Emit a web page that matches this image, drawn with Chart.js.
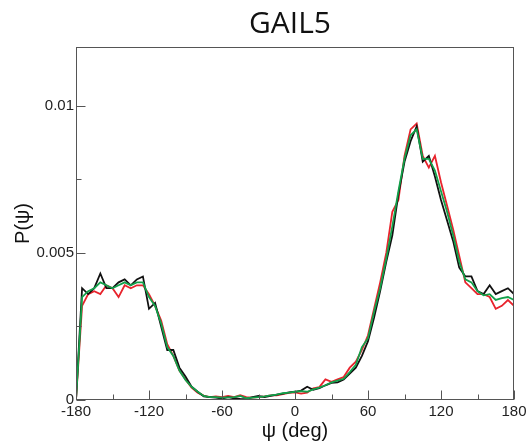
<!DOCTYPE html>
<html>
<head>
<meta charset="utf-8">
<script src="https://cdn.jsdelivr.net/npm/chart.js@4.4.1/dist/chart.umd.min.js"></script>
<style>
  html, body { margin: 0; padding: 0; background: #fff; }
  #wrap { width: 530px; height: 444px; }
</style>
</head>
<body>
<div id="wrap"><canvas id="c" width="530" height="444"></canvas></div>
<script>
const chartTitle = 'GAIL5';
const xTitle = 'ψ (deg)';
const yTitle = 'P(ψ)';

const angles = [-180,-175,-170,-165,-160,-155,-150,-145,-140,-135,-130,-125,-120,-115,-110,-105,-100,-95,-90,-85,-80,-75,-70,-65,-60,-55,-50,-45,-40,-35,-30,-25,-20,-15,-10,-5,0,5,10,15,20,25,30,35,40,45,50,55,60,65,70,75,80,85,90,95,100,105,110,115,120,125,130,135,140,145,150,155,160,165,170,175,180];

const blackSeries = [0,0.0038,0.0036,0.0038,0.0043,0.0038,0.0038,0.0040,0.0041,0.0039,0.0041,0.0042,0.0031,0.0033,0.0025,0.0017,0.0017,0.0011,0.0008,0.00045,0.00028,0.00012,0.0001,0.00008,0.00005,0.0001,0.00006,0.00004,0.00003,0.0001,0.00014,0.0001,0.00014,0.00018,0.00022,0.00026,0.00028,0.00032,0.00045,0.00035,0.0004,0.0005,0.00058,0.0006,0.0007,0.0009,0.0011,0.0015,0.0020,0.0028,0.0037,0.0047,0.0056,0.0070,0.0081,0.0088,0.0093,0.0081,0.0083,0.0076,0.0068,0.0061,0.0054,0.0045,0.0042,0.0042,0.0037,0.0036,0.0039,0.0036,0.0037,0.0038,0.0036];

const redSeries = [0,0.0032,0.0036,0.0037,0.0036,0.0039,0.0038,0.0035,0.0039,0.0038,0.0039,0.0039,0.0036,0.0032,0.0027,0.0019,0.0015,0.0010,0.0007,0.00042,0.00025,0.00015,0.0001,0.00012,0.0001,0.00014,0.0001,0.00016,0.0001,0.00008,0.0001,0.00012,0.00016,0.00016,0.0002,0.00024,0.00026,0.00022,0.00025,0.0004,0.00044,0.0007,0.00062,0.0007,0.00078,0.0011,0.0013,0.0017,0.0022,0.0031,0.0040,0.0050,0.0064,0.0068,0.0083,0.0092,0.0094,0.0083,0.0079,0.0083,0.0074,0.0066,0.0058,0.0049,0.0040,0.0038,0.0036,0.0036,0.0035,0.0031,0.0032,0.0034,0.0032];

const greenSeries = [0,0.0035,0.0037,0.0038,0.0040,0.0039,0.0038,0.0039,0.0040,0.0039,0.0040,0.0040,0.0035,0.0032,0.0026,0.0018,0.0015,0.0010,0.00068,0.00045,0.00028,0.00014,0.0001,0.0001,0.00008,0.00009,0.0001,0.00014,0.00006,0.00008,0.0001,0.00012,0.00016,0.00018,0.00023,0.00025,0.00028,0.0003,0.00028,0.00036,0.00042,0.0005,0.0006,0.00066,0.00072,0.00095,0.0012,0.0018,0.0021,0.0030,0.0038,0.0048,0.0059,0.0071,0.0082,0.0090,0.0092,0.0082,0.0082,0.0078,0.0071,0.0064,0.0056,0.0047,0.0041,0.0040,0.0037,0.00356,0.0036,0.0034,0.00346,0.0035,0.0034];

const xTicks = [-180,-150,-120,-90,-60,-30,0,30,60,90,120,150,180];
const xLabels = ['-180','','-120','','-60','','0','','60','','120','','180'];
const yTicks = [0,0.0025,0.005,0.0075,0.01];
const yLabels = ['0','','0.005','','0.01'];

function pts(vals) { return angles.map((a, i) => ({ x: a, y: vals[i] })); }

const framePlugin = {
  id: 'frame',
  afterDatasetsDraw(chart) {
    const ctx = chart.ctx, a = chart.chartArea;
    const xs = chart.scales.x, ys = chart.scales.y;
    ctx.save();
    ctx.strokeStyle = '#555';
    ctx.lineWidth = 1;
    const L = Math.round(a.left) + 0.5, R = Math.round(a.right) - 0.5;
    const T = Math.round(a.top) + 0.5, B = Math.round(a.bottom) - 0.5;
    ctx.strokeRect(L, T, R - L, B - T);
    ctx.beginPath();
    xs.ticks.forEach((t, i) => {
      const px = Math.round(xs.getPixelForValue(t.value)) + 0.5;
      const len = xLabels[i] ? 9 : 5;
      ctx.moveTo(px, B); ctx.lineTo(px, B - len);
    });
    ys.ticks.forEach((t, i) => {
      const py = Math.round(ys.getPixelForValue(t.value)) + 0.5;
      const len = yLabels[i] ? 9 : 5;
      ctx.moveTo(L, py); ctx.lineTo(L + len, py);
    });
    ctx.stroke();
    // titles
    ctx.fillStyle = '#111';
    ctx.textAlign = 'center';
    ctx.textBaseline = 'alphabetic';
    ctx.font = '30px "Open Sans"';
    ctx.fillText(chartTitle, 290, 32.5);
    ctx.font = '20px "Liberation Sans"';
    ctx.fillText(xTitle, (a.left + a.right) / 2, 437);
    ctx.save();
    ctx.translate(29, (a.top + a.bottom) / 2);
    ctx.rotate(-Math.PI / 2);
    ctx.fillText(yTitle, 0, 0);
    ctx.restore();
    ctx.restore();
  }
};

new Chart(document.getElementById('c'), {
  type: 'line',
  data: {
    datasets: [
      { label: 'green', data: pts(greenSeries), borderColor: '#12a04a', borderWidth: 1.8, order: 0 },
      { label: 'black', data: pts(blackSeries), borderColor: '#111111', borderWidth: 1.8, order: 1 },
      { label: 'red', data: pts(redSeries), borderColor: '#e8232c', borderWidth: 1.8, order: 2 }
    ]
  },
  options: {
    responsive: false,
    animation: false,
    devicePixelRatio: 1,
    layout: { padding: { top: 47, right: 16, left: 0, bottom: 0 } },
    elements: { point: { radius: 0 }, line: { tension: 0 } },
    plugins: { legend: { display: false }, title: { display: false }, tooltip: { enabled: false } },
    scales: {
      x: {
        type: 'linear', min: -180, max: 180,
        afterBuildTicks(s) { s.ticks = xTicks.map(v => ({ value: v })); },
        afterFit(s) { s.height = 44; },
        grid: { display: false, drawTicks: false },
        border: { display: false },
        ticks: {
          autoSkip: false, maxRotation: 0, padding: 3, color: '#222',
          font: { family: 'Liberation Sans', size: 15 },
          callback(v) { const i = xTicks.indexOf(v); return i >= 0 ? xLabels[i] : ''; }
        }
      },
      y: {
        type: 'linear', min: 0, max: 0.012,
        afterBuildTicks(s) { s.ticks = yTicks.map(v => ({ value: v })); },
        afterFit(s) { s.width = 76; },
        grid: { display: false, drawTicks: false },
        border: { display: false },
        ticks: {
          autoSkip: false, padding: 2, color: '#222',
          font: { family: 'Liberation Sans', size: 15 },
          callback(v) { const i = yTicks.indexOf(v); return i >= 0 ? yLabels[i] : ''; }
        }
      }
    }
  },
  plugins: [framePlugin]
});
</script>
</body>
</html>
